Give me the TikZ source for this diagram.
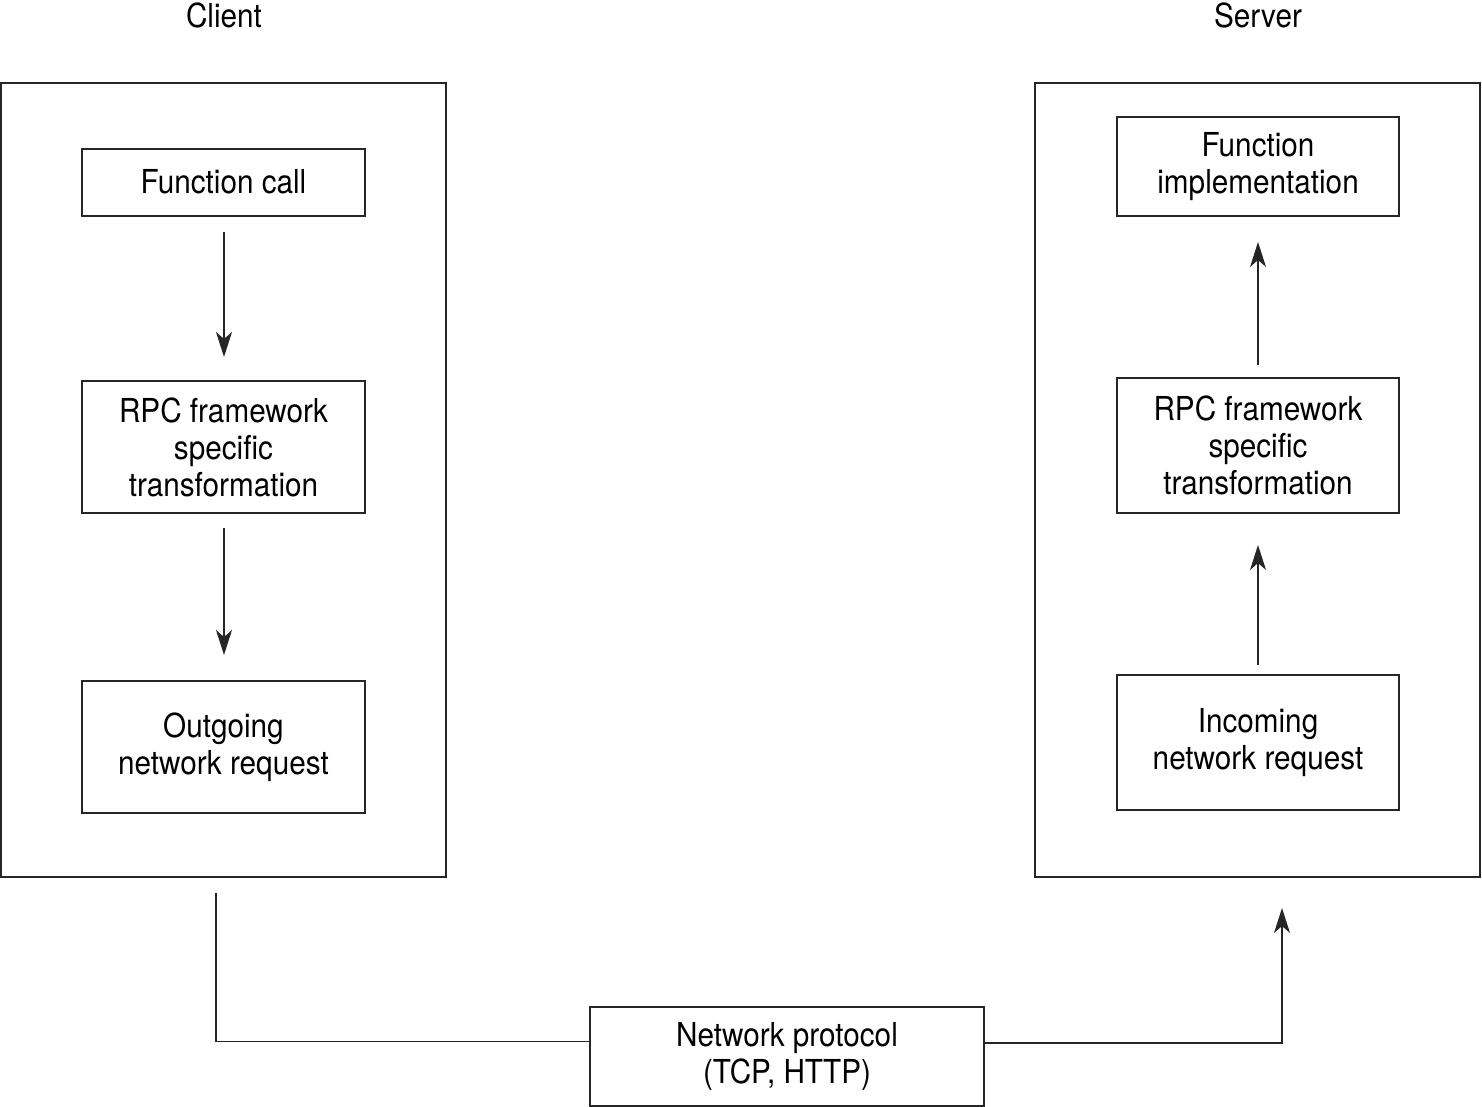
\documentclass[tikz,border=0pt]{standalone}
\usepackage{fontspec}
\setmainfont{TeX Gyre Heros}[FakeStretch=0.9]
\usetikzlibrary{arrows.meta}
\tikzset{
  box/.style={draw=black!85, line width=1.8pt, align=center, inner sep=0pt},
  frame/.style={draw=black!85, line width=1.8pt},
  conn/.style={draw=black!85, line width=1.6pt},
  arr/.style={conn, -{Stealth[length=25pt,width=16pt,inset=7pt]}},
  lbl/.style={font=\fontsize{33}{37}\selectfont, inner sep=0pt}
}
\begin{document}
\begin{tikzpicture}[x=1pt,y=-1pt, every node/.style={font=\fontsize{33}{37}\selectfont}]
\useasboundingbox (0,0) rectangle (1482,1107);
% titles
\node[lbl] (tclient) at (224,15) {Client};
\node[lbl] (tserver) at (1258,15) {Server};
% frames
\draw[frame] (1,83) rectangle (446,877);
\draw[frame] (1035,83) rectangle (1480,877);
% client boxes
\node[box, minimum width=283pt, minimum height=67pt] (fc) at (223.5,182.5) {\raisebox{2pt}{Function call}};
\node[box, minimum width=283pt, minimum height=132pt] (rpcc) at (223.5,447) {RPC framework\\specific\\transformation};
\node[box, minimum width=283pt, minimum height=132pt] (out) at (223.5,747) {Outgoing\\network request};
% server boxes
\node[box, minimum width=282pt, minimum height=99pt] (fi) at (1258,166.5) {Function\\implementation};
\node[box, minimum width=282pt, minimum height=135pt] (rpcs) at (1258,445.5) {RPC framework\\specific\\transformation};
\node[box, minimum width=282pt, minimum height=135pt] (inc) at (1258,742.5) {Incoming\\network request};
% network
\node[box, minimum width=394pt, minimum height=99pt] (net) at (787,1056.5) {Network protocol\\(TCP, HTTP)};
% client arrows
\coordinate (a1s) at (224,232); \coordinate (a1e) at (224,357);
\coordinate (a2s) at (224,528); \coordinate (a2e) at (224,655);
\draw[arr] (a1s) -- (a1e);
\draw[arr] (a2s) -- (a2e);
% server arrows
\coordinate (b1s) at (1258,665); \coordinate (b1e) at (1258,545);
\coordinate (b2s) at (1258,365); \coordinate (b2e) at (1258,242);
\draw[arr] (b1s) -- (b1e);
\draw[arr] (b2s) -- (b2e);
% network connections
\coordinate (c0) at (216,893);
\coordinate (s0) at (1282,908);
\draw[conn] (c0) -- (216,1041.5) -- (net.west |- 0,1041.5);
\draw[arr] (net.east |- 0,1043) -- (1282,1043) -- (s0);
\end{tikzpicture}
\end{document}
